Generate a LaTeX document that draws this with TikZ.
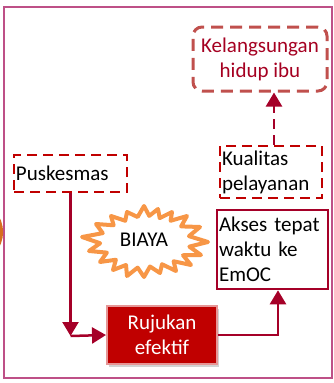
\documentclass[tikz,border=0pt]{standalone}
\usepackage{fontspec}
\setmainfont{Carlito}
\usetikzlibrary{arrows.meta,shadows,calc}
\definecolor{framec}{RGB}{190,80,135}
\definecolor{kelb}{RGB}{192,80,77}
\definecolor{kelt}{RGB}{165,0,33}
\definecolor{dred}{RGB}{192,0,0}
\definecolor{connc}{RGB}{165,0,40}
\definecolor{starc}{RGB}{247,150,70}
\definecolor{blobc}{RGB}{215,110,30}
\definecolor{rujb}{RGB}{230,150,150}
\begin{document}
\begin{tikzpicture}[x=1pt,y=-1pt,
  font=\fontsize{21}{25}\selectfont,
  dbox/.style={draw=dred,line width=2.5pt,dash pattern=on 10pt off 6pt,inner xsep=1pt,inner ysep=0pt,align=left},
  kelbox/.style={draw=kelb,line width=3pt,dash pattern=on 12pt off 7pt,rounded corners=9pt,text=kelt,align=center,inner sep=0pt},
  conn/.style={draw=connc,line width=2.5pt,-{Triangle[length=14pt,width=16pt]}},
  dconn/.style={conn,dash pattern=on 10pt off 6pt},
  burst/.style={draw=starc,line width=4pt,fill=white,line join=round}]
\path[use as bounding box] (0,0) rectangle (333,383);
\begin{scope}
\clip (0,0) rectangle (333,383);
\fill[blobc] (-22,232) ellipse [x radius=25, y radius=29];
\end{scope}
\draw[framec,line width=1.2pt] (4,7) rectangle (332,378);
% star burst behind the BIAYA label
\coordinate (c) at (144,241);
\foreach \px/\py [count=\i] in {208/242,200/227,187/216,172/212,158/209,144/206,127/212,111/216,96/224,82/237,89/251,100/262,113/270,127/276,144/277,160/273,176/271,191/265,201/255}
  \coordinate (o\i) at (\px,\py);
\foreach \i [evaluate=\i as \j using {int(mod(\i,19)+1)}] in {1,...,19}
  \coordinate (v\i) at ($(c)!0.75!($(o\i)!0.5!(o\j)$)$);
\draw[burst] (v19) \foreach \i in {1,...,19} { -- (o\i) -- (v\i) } -- cycle;
% nodes
\node[kelbox,minimum width=134pt,minimum height=64pt] (kel) at (260,59) {Kelangsungan\\hidup ibu};
\node[dbox,minimum width=113pt,minimum height=37pt,text width=109pt] (pusk) at (70.5,173.5) {Puskesmas};
\node[dbox,minimum width=102pt,minimum height=52pt,text width=98pt] (kual) at (271,172) {Kualitas\\pelayanan};
\node[draw=connc,line width=2.5pt,fill=white,minimum width=111pt,minimum height=79pt,text width=107pt,inner xsep=1pt,inner ysep=0pt,align=left] (akses) at (272.5,249.5) {Akses tepat\\waktu ke\\EmOC};
\node[inner sep=0pt] (biaya) at (144,240) {BIAYA};
\node[fill=dred,draw=rujb,line width=2pt,text=white,minimum width=110pt,minimum height=58pt,align=center,inner sep=0pt,drop shadow={shadow xshift=2pt,shadow yshift=-3pt,opacity=0.35}] (ruj) at (162,335) {Rujukan\\efektif};
\coordinate (corner) at (70.5,336);
% connectors
\draw[conn] (pusk.south) -- (corner);
\draw[conn] (corner) -- (ruj.west);
\draw[conn] (ruj.east) -| ([xshift=5.5pt]akses.south);
\draw[dconn] ([xshift=3pt]kual.north) -- ([xshift=3pt]kual.north |- kel.south);
\end{tikzpicture}
\end{document}
